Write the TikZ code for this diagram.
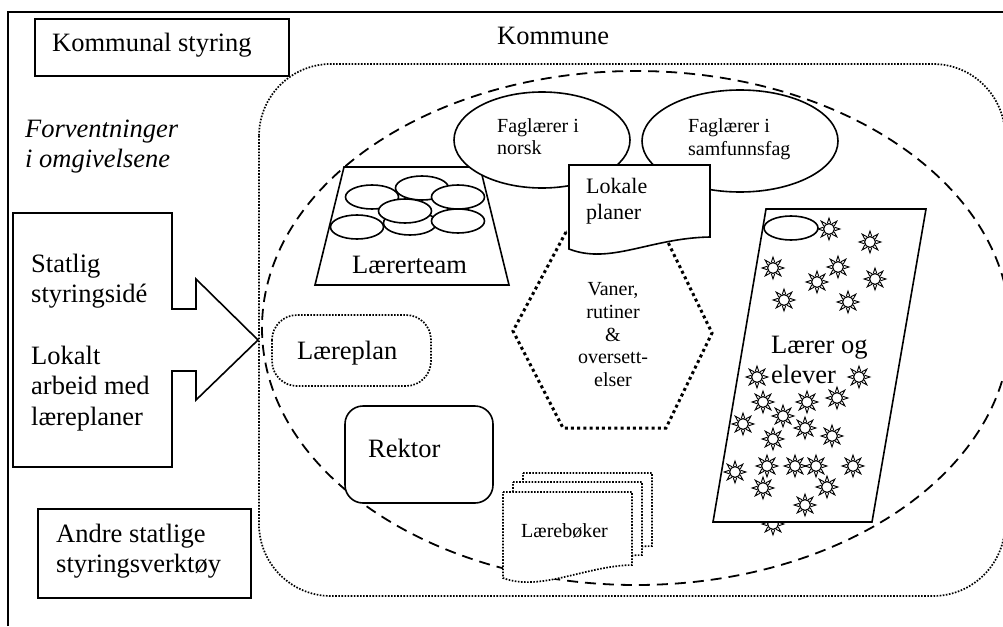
\documentclass[tikz,border=0pt]{standalone}
\usepackage{fontspec}
\setmainfont{Liberation Serif}
\begin{document}
\begin{tikzpicture}[x=1pt,y=-1pt,
  ln/.style={line width=1.6pt, line join=miter},
  finedots/.style={line width=1.7pt, dash pattern=on 1.6pt off 1.5pt},
  bigdots/.style={line width=3pt, dash pattern=on 3pt off 3.2pt},
  dashell/.style={line width=1.8pt, dash pattern=on 11pt off 7pt},
  big/.style={font=\fontsize{26.5}{30}\selectfont, inner sep=0pt},
  mid/.style={font=\fontsize{22}{25}\selectfont, inner sep=0pt},
  small/.style={font=\fontsize{20}{23}\selectfont, inner sep=0pt},
  sunstar/.pic={
    \draw[line width=1.1pt] (0,0) circle (5.4);
    \foreach \a in {0,45,...,315}
      \draw[line width=0.9pt, line join=miter] (\a-17:5.9) -- (\a:11) -- (\a+17:5.9);
  }
]
\useasboundingbox (0,0) rectangle (1003,626);

% outer frame
\draw[line width=1.4pt] (8,626) -- (8,12) -- (1003,12);

% Kommunal styring
\draw[ln] (35,19) rectangle (289,76);
\node[big, anchor=base west] (ks) at (52,52) {Kommunal styring};

% Forventninger
\node[big, anchor=base west, font=\fontsize{26.5}{30}\selectfont\itshape] (fo1) at (25,137) {Forventninger};
\node[big, anchor=base west, font=\fontsize{26.5}{30}\selectfont\itshape] (fo2) at (25,167) {i omgivelsene};

% arrow
\draw[ln] (13,213) -- (172,213) -- (172,309) -- (196,309) -- (196,279) -- (258,340)
  -- (196,400) -- (196,371) -- (172,371) -- (172,467) -- (13,467) -- cycle;
\node[big, anchor=base west] (a1) at (31,272) {Statlig};
\node[big, anchor=base west] (a2) at (31,302) {styringsidé};
\node[big, anchor=base west] (a3) at (31,364) {Lokalt};
\node[big, anchor=base west] (a4) at (31,394) {arbeid med};
\node[big, anchor=base west] (a5) at (31,425) {læreplaner};

% Andre statlige
\draw[ln] (38,509) rectangle (251,598);
\node[big, anchor=base west] (an1) at (56,542) {Andre statlige};
\node[big, anchor=base west] (an2) at (56,572) {styringsverktøy};

% Kommune
\node[big, anchor=base west] (km) at (497,45) {Kommune};
\draw[finedots, rounded corners=72pt] (259,64) rectangle (1005,596);

% dashed ellipse (school)
\draw[dashell] (636,328) ellipse [x radius=374, y radius=257];

% Laererteam
\draw[ln, fill=white] (344,167) -- (480,167) -- (509,285) -- (315,285) -- cycle;
\foreach \cx/\cy in {422/188, 372/197, 458/197, 410/223, 357/227, 458/221, 405/211}
  \draw[ln, fill=white] (\cx,\cy) ellipse [x radius=26.5, y radius=12];
\node[big, anchor=base west] (lt) at (352,273) {Lærerteam};

% Faglaerer ellipses
\draw[ln, fill=white] (542,140) ellipse [x radius=88, y radius=48];
\draw[ln, fill=white] (740,141) ellipse [x radius=98, y radius=51];
\node[small, anchor=base west] (f1) at (497,132) {Faglærer i};
\node[small, anchor=base west] (f2) at (497,154) {norsk};
\node[small, anchor=base west] (f3) at (688,132) {Faglærer i};
\node[small, anchor=base west] (f4) at (688,155) {samfunnsfag};

% hexagon
\draw[bigdots] (566,232) -- (513,331) -- (563,428) -- (666,428) -- (712,333) -- (663,232) -- cycle;
\node[small, anchor=base] (h1) at (613,295) {Vaner,};
\node[small, anchor=base] (h2) at (613,318) {rutiner};
\node[small, anchor=base] (h3) at (613,341) {\&};
\node[small, anchor=base] (h4) at (613,363) {oversett-};
\node[small, anchor=base] (h5) at (613,386) {elser};

% Lokale planer document
\draw[ln, fill=white] (569,165) -- (710,165) -- (710,237)
  .. controls (650,238) and (610,265) .. (569,249) -- cycle;
\node[mid, anchor=base west] (lp1) at (586,193) {Lokale};
\node[mid, anchor=base west] (lp2) at (586,219) {planer};

% Laereplan
\draw[finedots, rounded corners=25pt] (272,315) rectangle (431,386);
\node[big, anchor=base west] (lpl) at (297,359) {Læreplan};

% Rektor
\draw[ln, fill=white, rounded corners=18pt] (345,406) rectangle (493,503);
\node[big, anchor=base west] (rk) at (368,457) {Rektor};

% Laereboker stack
\foreach \dx/\dy in {20/19, 10/10, 0/0}
  \draw[finedots, fill=white, shift={(\dx,-\dy)}] (503,492) -- (632,492) -- (632,565)
    .. controls (585,566) and (540,592) .. (503,578) -- cycle;
\node[small, anchor=base west] (lb) at (521,537) {Lærebøker};

% Laerer og elever
\pic at (773,524) {sunstar};
\draw[ln, fill=white] (766,209) -- (926,209) -- (872,522) -- (713,522) -- cycle;
\draw[ln] (791,228) ellipse [x radius=27, y radius=12];
\node[big, anchor=base west] (le1) at (771,353) {Lærer og};
\node[big, anchor=base west] (le2) at (771,383) {elever};
\foreach \sx/\sy in {829/229, 870/242, 773/268, 838/267, 817/282, 875/279, 784/300, 848/302,
  757/377, 859/377, 763/402, 807/402, 837/398, 783/416, 743/424, 805/428, 832/436, 773/439,
  735/472, 767/466, 795/466, 816/466, 853/466, 763/488, 827/487, 805/505}
  \pic at (\sx,\sy) {sunstar};
\end{tikzpicture}
\end{document}
